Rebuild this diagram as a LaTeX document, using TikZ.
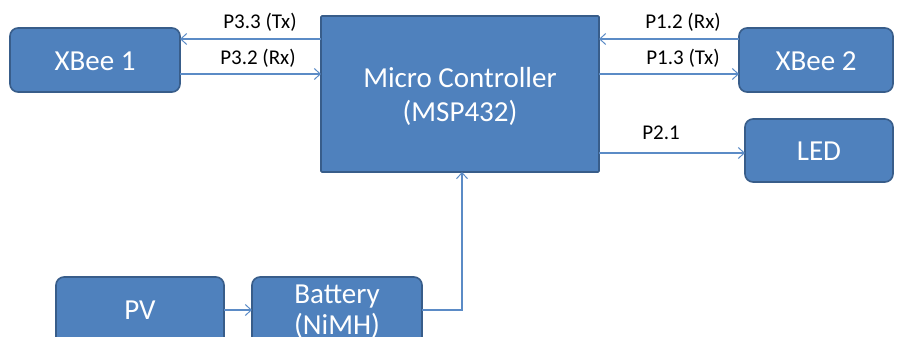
\documentclass[tikz,border=0pt]{standalone}
\usepackage{fontspec}
\setmainfont{Carlito}
\usetikzlibrary{arrows.meta}
\definecolor{boxfill}{HTML}{4F81BD}
\definecolor{boxline}{HTML}{385D8A}
\definecolor{wire}{HTML}{5B8BC6}
\begin{document}
\begin{tikzpicture}[x=1pt,y=-1pt,
  blk/.style={draw=boxline,line width=1.6pt,fill=boxfill,rounded corners=8pt},
  btxt/.style={text=white,font=\fontsize{29}{31}\selectfont,align=center,inner sep=0pt},
  wireline/.style={draw=wire,line width=1.1pt,-{Straight Barb[length=6pt,width=11pt,line width=1pt]}},
  lbl/.style={font=\fontsize{21}{24}\selectfont,text=black,inner sep=0pt}]
\clip (0,0) rectangle (902,337);
\useasboundingbox (0,0) rectangle (902,337);
% boxes
\path[blk] (10,28) rectangle (180,92);
\node[btxt] (x1) at (95,61) {XBee 1};
\path[blk,rounded corners=1pt] (321,16) rectangle (599,172);
\node[btxt] (mcu) at (460,96) {Micro Controller\\[3pt](MSP432)};
\path[blk] (739,28) rectangle (893,92);
\node[btxt] (x2) at (816,61) {XBee 2};
\path[blk] (745,119) rectangle (893,182);
\node[btxt] (led) at (819,151) {LED};
\path[blk] (56,277) rectangle (224,360);
\node[btxt] (pv) at (140,310) {PV};
\path[blk] (252,277) rectangle (422,360);
\node[btxt] (bat) at (337,312) {Battery\\[0pt](NiMH)};
% named anchors
\coordinate (mcuL1) at (321,39);
\coordinate (mcuL2) at (321,74);
\coordinate (x1R1) at (180,39);
\coordinate (x1R2) at (180,74);
\coordinate (mcuR1) at (599,39);
\coordinate (mcuR2) at (599,74);
\coordinate (mcuR3) at (599,153);
\coordinate (x2L1) at (739,39);
\coordinate (x2L2) at (739,74);
\coordinate (ledL) at (745,153);
\coordinate (pvR) at (224,310);
\coordinate (batL) at (252,310);
\coordinate (batR) at (422,310);
\coordinate (mcuB) at (462,172);
% connectors
\draw[wireline] (mcuL1) -- (x1R1);
\draw[wireline] (x1R2) -- (mcuL2);
\draw[wireline] (x2L1) -- (mcuR1);
\draw[wireline] (mcuR2) -- (x2L2);
\draw[wireline] (mcuR3) -- (ledL);
\draw[wireline] (pvR) -- (batL);
\draw[wireline] (batR) -| (mcuB);
% labels
\node[lbl] (l1) at (260,22) {P3.3 (Tx)};
\node[lbl] (l2) at (258,58) {P3.2 (Rx)};
\node[lbl] (l3) at (683,22) {P1.2 (Rx)};
\node[lbl] (l4) at (683,58) {P1.3 (Tx)};
\node[lbl] (l5) at (661,133) {P2.1};
\end{tikzpicture}
\end{document}
